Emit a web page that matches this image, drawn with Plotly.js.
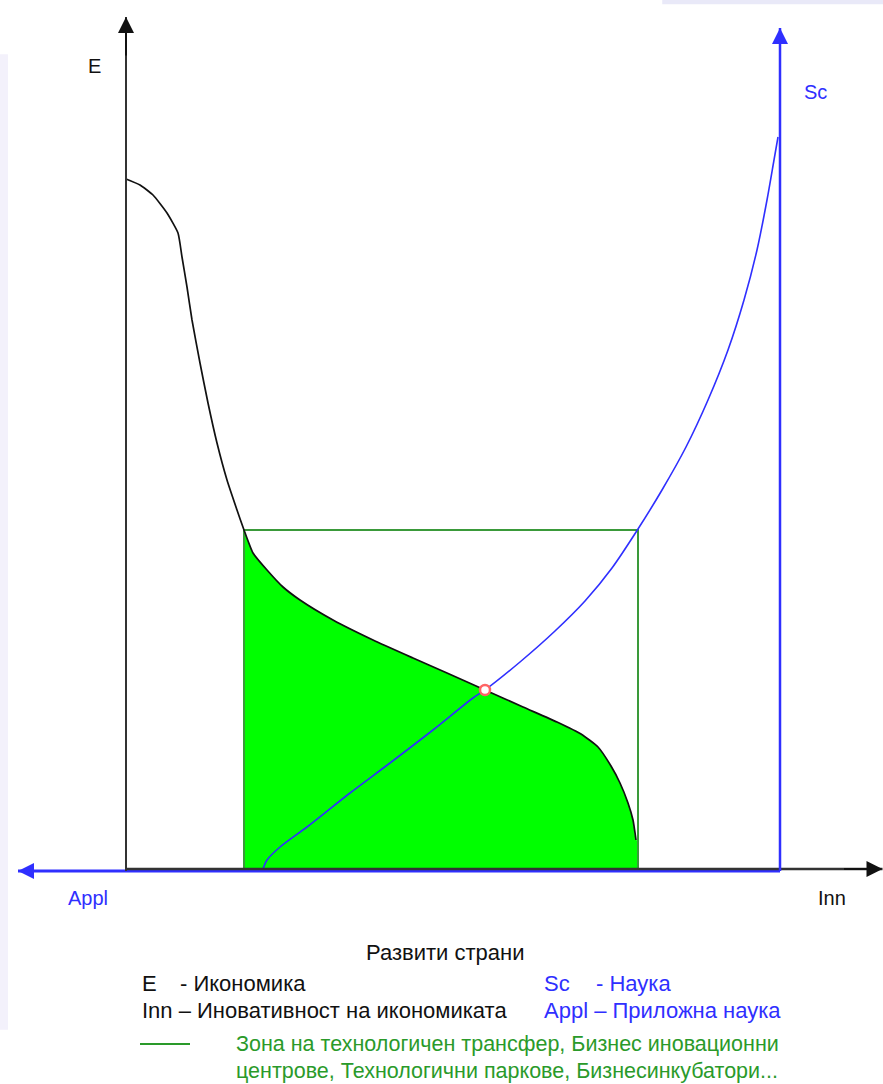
<!DOCTYPE html>
<html>
<head>
<meta charset="utf-8">
<script src="https://cdn.plot.ly/plotly-3.0.1.min.js"></script>
<style>html,body{margin:0;padding:0;background:#fff;}#chart{width:883px;height:1084px;}</style>
</head>
<body>
<div id="chart"></div>
<script>
// ---- data (units: Inn along x, E/Sc along y; origin at the axes crossing) ----
const economyX = [0, 14, 27, 41, 52, 56, 61, 66, 74, 82, 91, 101, 111, 118, 127, 141, 157, 174, 207, 247, 287, 321, 359, 397, 431, 455, 472, 485, 494, 502, 507, 510];
const economyY = [690, 684, 674, 656, 636, 612, 582, 549, 506, 466, 426, 389, 359, 339, 316, 299, 282, 269, 249, 229, 211, 196, 179, 162, 147, 135, 122, 103, 86, 66, 49, 29];

const scienceX = [137, 141, 154, 181, 224, 264, 307, 347, 359, 394, 429, 459, 486, 512, 536, 560, 582, 602, 618, 631, 641, 648, 652];
const scienceY = [0, 9, 22, 42, 76, 106, 139, 171, 179, 207, 238, 268, 301, 340, 379, 422, 469, 519, 569, 619, 669, 709, 732];

// transfer zone (rectangle) bounds
const zoneX = [118, 512];
const zoneY = [0, 339];

// intersection point
const crossX = [359];
const crossY = [179];

// axes: [tailX, tailY, tipX, tipY]
const axisE    = [0, -2, 0, 852];
const axisSc   = [654, -2, 654, 841];
const axisInn  = [0, 0, 756.5, 0];
const axisAppl = [654, -2, -108, -2];

// labels
const axisLabels = [
  {text: 'E',    x: -32, y: 803, c: 'k'},
  {text: 'Sc',   x: 689, y: 777, c: 'b'},
  {text: 'Appl', x: -38, y: -29, c: 'b'},
  {text: 'Inn',  x: 706, y: -29, c: 'k'}
];
const legendTitle = 'Развити страни';
const legendRows = [
  {text: 'E',  x: 14,  y: -114, c: 'k'},
  {text: '- Икономика', x: 52, y: -114, c: 'k'},
  {text: 'Sc', x: 416, y: -114, c: 'b'},
  {text: '- Наука', x: 468, y: -114, c: 'b'},
  {text: 'Inn – Иновативност на икономиката', x: 14, y: -141, c: 'k'},
  {text: 'Appl – Приложна наука', x: 416, y: -141, c: 'b'},
  {text: 'Зона на технологичен трансфер, Бизнес иновационни', x: 108, y: -175, c: 'g'},
  {text: 'центрове, Технологични паркове, Бизнесинкубатори...', x: 108, y: -202, c: 'g'}
];
const legendLine = [14, 64, -175];

// ---- styling ----
const BLUE = '#2f2fff';
const BLACK = '#111111';
const GREEN_FILL = '#00ff00';
const GREEN_LINE = '#3a9a3a';
const GREEN_TEXT = '#2a9a2a';
const FONT = 'Liberation Sans, Arial, sans-serif';
const colorOf = c => c === 'b' ? BLUE : (c === 'g' ? GREEN_TEXT : BLACK);

// fill: economy curve inside the zone, filled down to the Inn axis
const fillX = [], fillY = [];
economyX.forEach((x, i) => { if (x >= zoneX[0]) { fillX.push(x); fillY.push(economyY[i]); } });
fillX.push(zoneX[1]);
fillY.push(economyY[economyY.length - 1]);

const traces = [
  {x: fillX, y: fillY, type: 'scatter', mode: 'lines', fill: 'tozeroy', fillcolor: GREEN_FILL,
   line: {width: 0, color: GREEN_FILL, shape: 'spline', smoothing: 0.5}, hoverinfo: 'skip'},
  {x: [zoneX[0], zoneX[1], zoneX[1], zoneX[0], zoneX[0]], y: [zoneY[0], zoneY[0], zoneY[1], zoneY[1], zoneY[0]],
   type: 'scatter', mode: 'lines', line: {color: GREEN_LINE, width: 2}, hoverinfo: 'skip'},
  {x: scienceX, y: scienceY, type: 'scatter', mode: 'lines', line: {color: BLUE, width: 1.6, shape: 'spline', smoothing: 0.8}},
  {x: economyX, y: economyY, type: 'scatter', mode: 'lines', line: {color: BLACK, width: 1.7, shape: 'spline', smoothing: 0.5}},
  {x: crossX, y: crossY, type: 'scatter', mode: 'markers',
   marker: {symbol: 'circle', size: 10, color: '#ffffff', line: {color: '#ff6464', width: 2.5}}}
];

const shapes = [];
function axisShape(a, color, w) {
  shapes.push({type: 'line', xref: 'x', yref: 'y', x0: a[0], y0: a[1], x1: a[2], y1: a[3], line: {color: color, width: w}});
}
axisShape(axisAppl, BLUE, 3);
axisShape(axisInn, '#333333', 2.5);
axisShape(axisE, '#333333', 2);
axisShape(axisSc, BLUE, 2.5);
shapes.push({type: 'line', xref: 'x', yref: 'y', x0: legendLine[0], x1: legendLine[1], y0: legendLine[2], y1: legendLine[2],
  line: {color: GREEN_TEXT, width: 2}});
// faint background tints at the edges
shapes.push({type: 'rect', xref: 'paper', yref: 'paper', x0: 0, x1: 0.009, y0: 0.05, y1: 0.95, fillcolor: '#f3f1fb', line: {width: 0}, layer: 'below'});
shapes.push({type: 'rect', xref: 'paper', yref: 'paper', x0: 0.75, x1: 1, y0: 0.996, y1: 1, fillcolor: '#e9e9f8', line: {width: 0}, layer: 'below'});

const annotations = [];
function arrowHead(a, color) {
  const dx = a[2] - a[0], dy = a[3] - a[1];
  const len = Math.sqrt(dx * dx + dy * dy);
  annotations.push({x: a[2], y: a[3], ax: a[2] - dx / len * 40, ay: a[3] - dy / len * 40,
    xref: 'x', yref: 'y', axref: 'x', ayref: 'y', text: '', showarrow: true,
    arrowhead: 2, arrowsize: 1.6, arrowwidth: 2, arrowcolor: color, standoff: 0});
}
arrowHead(axisE, BLACK);
arrowHead(axisSc, BLUE);
arrowHead(axisInn, BLACK);
arrowHead(axisAppl, BLUE);

axisLabels.forEach(l => annotations.push({x: l.x, y: l.y, xref: 'x', yref: 'y', text: l.text, showarrow: false,
  xanchor: 'center', yanchor: 'middle', font: {family: FONT, size: 20, color: colorOf(l.c)}}));
annotations.push({x: 319, y: -83, xref: 'x', yref: 'y', text: legendTitle, showarrow: false,
  xanchor: 'center', yanchor: 'middle', font: {family: FONT, size: 22, color: BLACK}});
legendRows.forEach(l => annotations.push({x: l.x, y: l.y, xref: 'x', yref: 'y', text: l.text, showarrow: false,
  xanchor: 'left', yanchor: 'middle', font: {family: FONT, size: l.c === 'g' ? 21.5 : 22, color: colorOf(l.c)}}));

const layout = {
  width: 883, height: 1084,
  margin: {l: 0, r: 0, t: 0, b: 0, pad: 0},
  paper_bgcolor: '#ffffff', plot_bgcolor: '#ffffff',
  showlegend: false,
  xaxis: {range: [-126, 757], visible: false, fixedrange: true},
  yaxis: {range: [-215, 869], visible: false, fixedrange: true},
  shapes: shapes,
  annotations: annotations
};

Plotly.newPlot('chart', traces, layout, {staticPlot: true, displayModeBar: false});
</script>
</body>
</html>
